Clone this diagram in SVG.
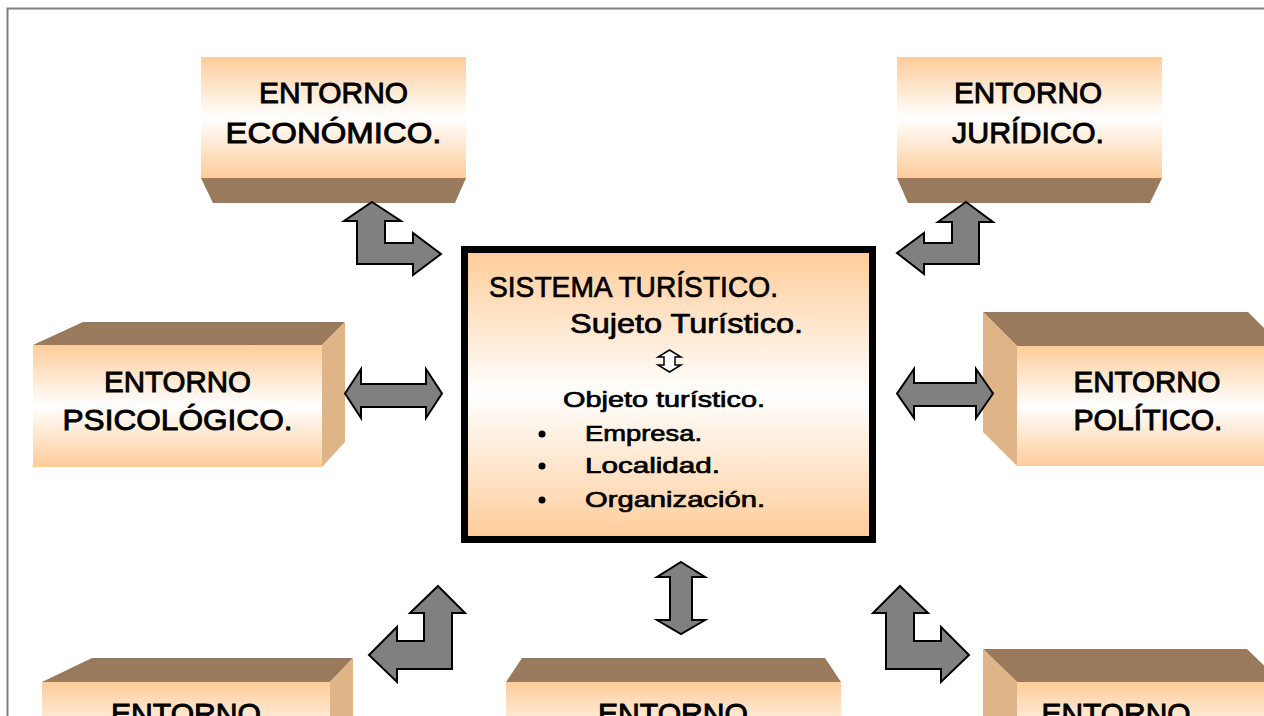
<svg xmlns="http://www.w3.org/2000/svg" width="1264" height="716" viewBox="0 0 1264 716">
<defs>
<linearGradient id="peach" x1="0" y1="0" x2="0" y2="1">
<stop offset="0" stop-color="#FFCC99"/>
<stop offset="0.5" stop-color="#FFFFFF"/>
<stop offset="1" stop-color="#FFCC99"/>
</linearGradient>
<style>
.front{fill:url(#peach);}
.top{fill:#997A5D;}
.side{fill:#DFB487;}
.arrow{fill:#808080;stroke:#000;stroke-width:2;stroke-linejoin:miter;}
.lbl{font-family:"Liberation Sans",Arial,sans-serif;font-weight:normal;font-size:29px;fill:#000;stroke:#000;stroke-width:0.9px;text-anchor:middle;}
.ctr{font-family:"Liberation Sans",Arial,sans-serif;font-weight:normal;fill:#000;stroke:#000;stroke-width:0.7px;}
</style>
</defs>
<rect width="1264" height="716" fill="#fff"/>
<polyline points="7.5,716 7.5,8.5 1264,8.5" fill="none" stroke="#808080" stroke-width="2"/>

<g id="economico">
<rect class="front" x="201" y="57" width="265" height="121"/>
<polygon class="top" points="201,178 466,178 455,203 213,203"/>
<text class="lbl" x="333.5" y="103" textLength="149" lengthAdjust="spacingAndGlyphs">ENTORNO</text>
<text class="lbl" x="333.5" y="143" textLength="216" lengthAdjust="spacingAndGlyphs">ECONÓMICO.</text>
</g>

<g id="juridico">
<rect class="front" x="897" y="57" width="265" height="121"/>
<polygon class="top" points="897,178 1162,178 1150,203 908,203"/>
<text class="lbl" x="1028" y="103" textLength="148" lengthAdjust="spacingAndGlyphs">ENTORNO</text>
<text class="lbl" x="1028" y="143" textLength="152" lengthAdjust="spacingAndGlyphs">JURÍDICO.</text>
</g>

<g id="psicologico">
<rect class="front" x="33" y="345" width="289" height="122"/>
<polygon class="top" points="33,345 83,322 345,322 322,345"/>
<polygon class="side" points="322,345 345,322 345,442 322,467"/>
<text class="lbl" x="177.5" y="392" textLength="147" lengthAdjust="spacingAndGlyphs">ENTORNO</text>
<text class="lbl" x="177.5" y="430" textLength="230" lengthAdjust="spacingAndGlyphs">PSICOLÓGICO.</text>
</g>

<g id="politico">
<rect class="front" x="1017" y="346" width="265" height="120"/>
<polygon class="top" points="983,312 1248,312 1282,346 1017,346"/>
<polygon class="side" points="983,312 1017,346 1017,466 983,432"/>
<text class="lbl" x="1147" y="392" textLength="147" lengthAdjust="spacingAndGlyphs">ENTORNO</text>
<text class="lbl" x="1148" y="430" textLength="149" lengthAdjust="spacingAndGlyphs">POLÍTICO.</text>
</g>

<g id="bottom-left">
<rect class="front" x="42" y="682" width="288" height="122"/>
<polygon class="top" points="42,682 92,658 353,658 330,682"/>
<polygon class="side" points="330,682 353,658 353,780 330,804"/>
<text class="lbl" x="186" y="724" textLength="150" lengthAdjust="spacingAndGlyphs">ENTORNO</text>
</g>

<g id="bottom-middle">
<rect class="front" x="506" y="682" width="335" height="122"/>
<polygon class="top" points="506,682 522,658 825,658 841,682"/>
<text class="lbl" x="673" y="724" textLength="150" lengthAdjust="spacingAndGlyphs">ENTORNO</text>
</g>

<g id="bottom-right">
<rect class="front" x="1017" y="682" width="265" height="122"/>
<polygon class="top" points="983,649 1247,649 1281,682 1017,682"/>
<polygon class="side" points="983,649 1017,682 1017,804 983,770"/>
<text class="lbl" x="1116" y="724" textLength="149" lengthAdjust="spacingAndGlyphs">ENTORNO</text>
</g>

<g id="sistema">
<rect x="464.5" y="249.5" width="408" height="290" fill="url(#peach)" stroke="#000" stroke-width="7"/>
<text class="ctr" x="489" y="297" font-size="29" textLength="289" lengthAdjust="spacingAndGlyphs">SISTEMA TURÍSTICO.</text>
<text class="ctr" x="570" y="333" font-size="27" textLength="233" lengthAdjust="spacingAndGlyphs">Sujeto Turístico.</text>
<polygon points="669.5,350 681,357 675,357 675,365 681,365 669.5,372 658,365 664,365 664,357 658,357" fill="#fff" stroke="#000" stroke-width="1.5"/>
<text class="ctr" x="563" y="407" font-size="22" textLength="202" lengthAdjust="spacingAndGlyphs">Objeto turístico.</text>
<circle cx="542" cy="434" r="3.5"/>
<circle cx="542" cy="466" r="3.5"/>
<circle cx="542" cy="500" r="3.5"/>
<text class="ctr" x="585" y="441" font-size="22" textLength="117" lengthAdjust="spacingAndGlyphs">Empresa.</text>
<text class="ctr" x="585" y="473" font-size="22" textLength="135" lengthAdjust="spacingAndGlyphs">Localidad.</text>
<text class="ctr" x="585" y="507" font-size="22" textLength="180" lengthAdjust="spacingAndGlyphs">Organización.</text>
</g>

<g id="connectors">
<polygon class="arrow" points="372,202 401,221 385,221 385,243 413,243 413,233 441,254 413,275 413,264 357,264 357,221 344,221"/>
<polygon class="arrow" points="966,202 993,222 979,222 979,264 924,264 924,274 897,253 924,233 924,243 952,243 952,222 938,222"/>
<polygon class="arrow" points="345,393.5 361,369 361,384 426,384 426,369 442,393.5 426,418 426,407 361,407 361,418"/>
<polygon class="arrow" points="897,393.5 914,369 914,383 976,383 976,369 993,393.5 976,418 976,406 914,406 914,418"/>
<polygon class="arrow" points="681,562 705,577 692,577 692,620 705,620 681,634 657,620 670,620 670,577 657,577"/>
<polygon class="arrow" points="438,586 465,613 452,613 452,669 397,669 397,682 369,655 397,627 397,641 424,641 424,613 410,613"/>
<polygon class="arrow" points="900,586 928,613 914,613 914,641 941,641 941,627 969,655 941,682 941,669 886,669 886,613 873,613"/>
</g>
</svg>
